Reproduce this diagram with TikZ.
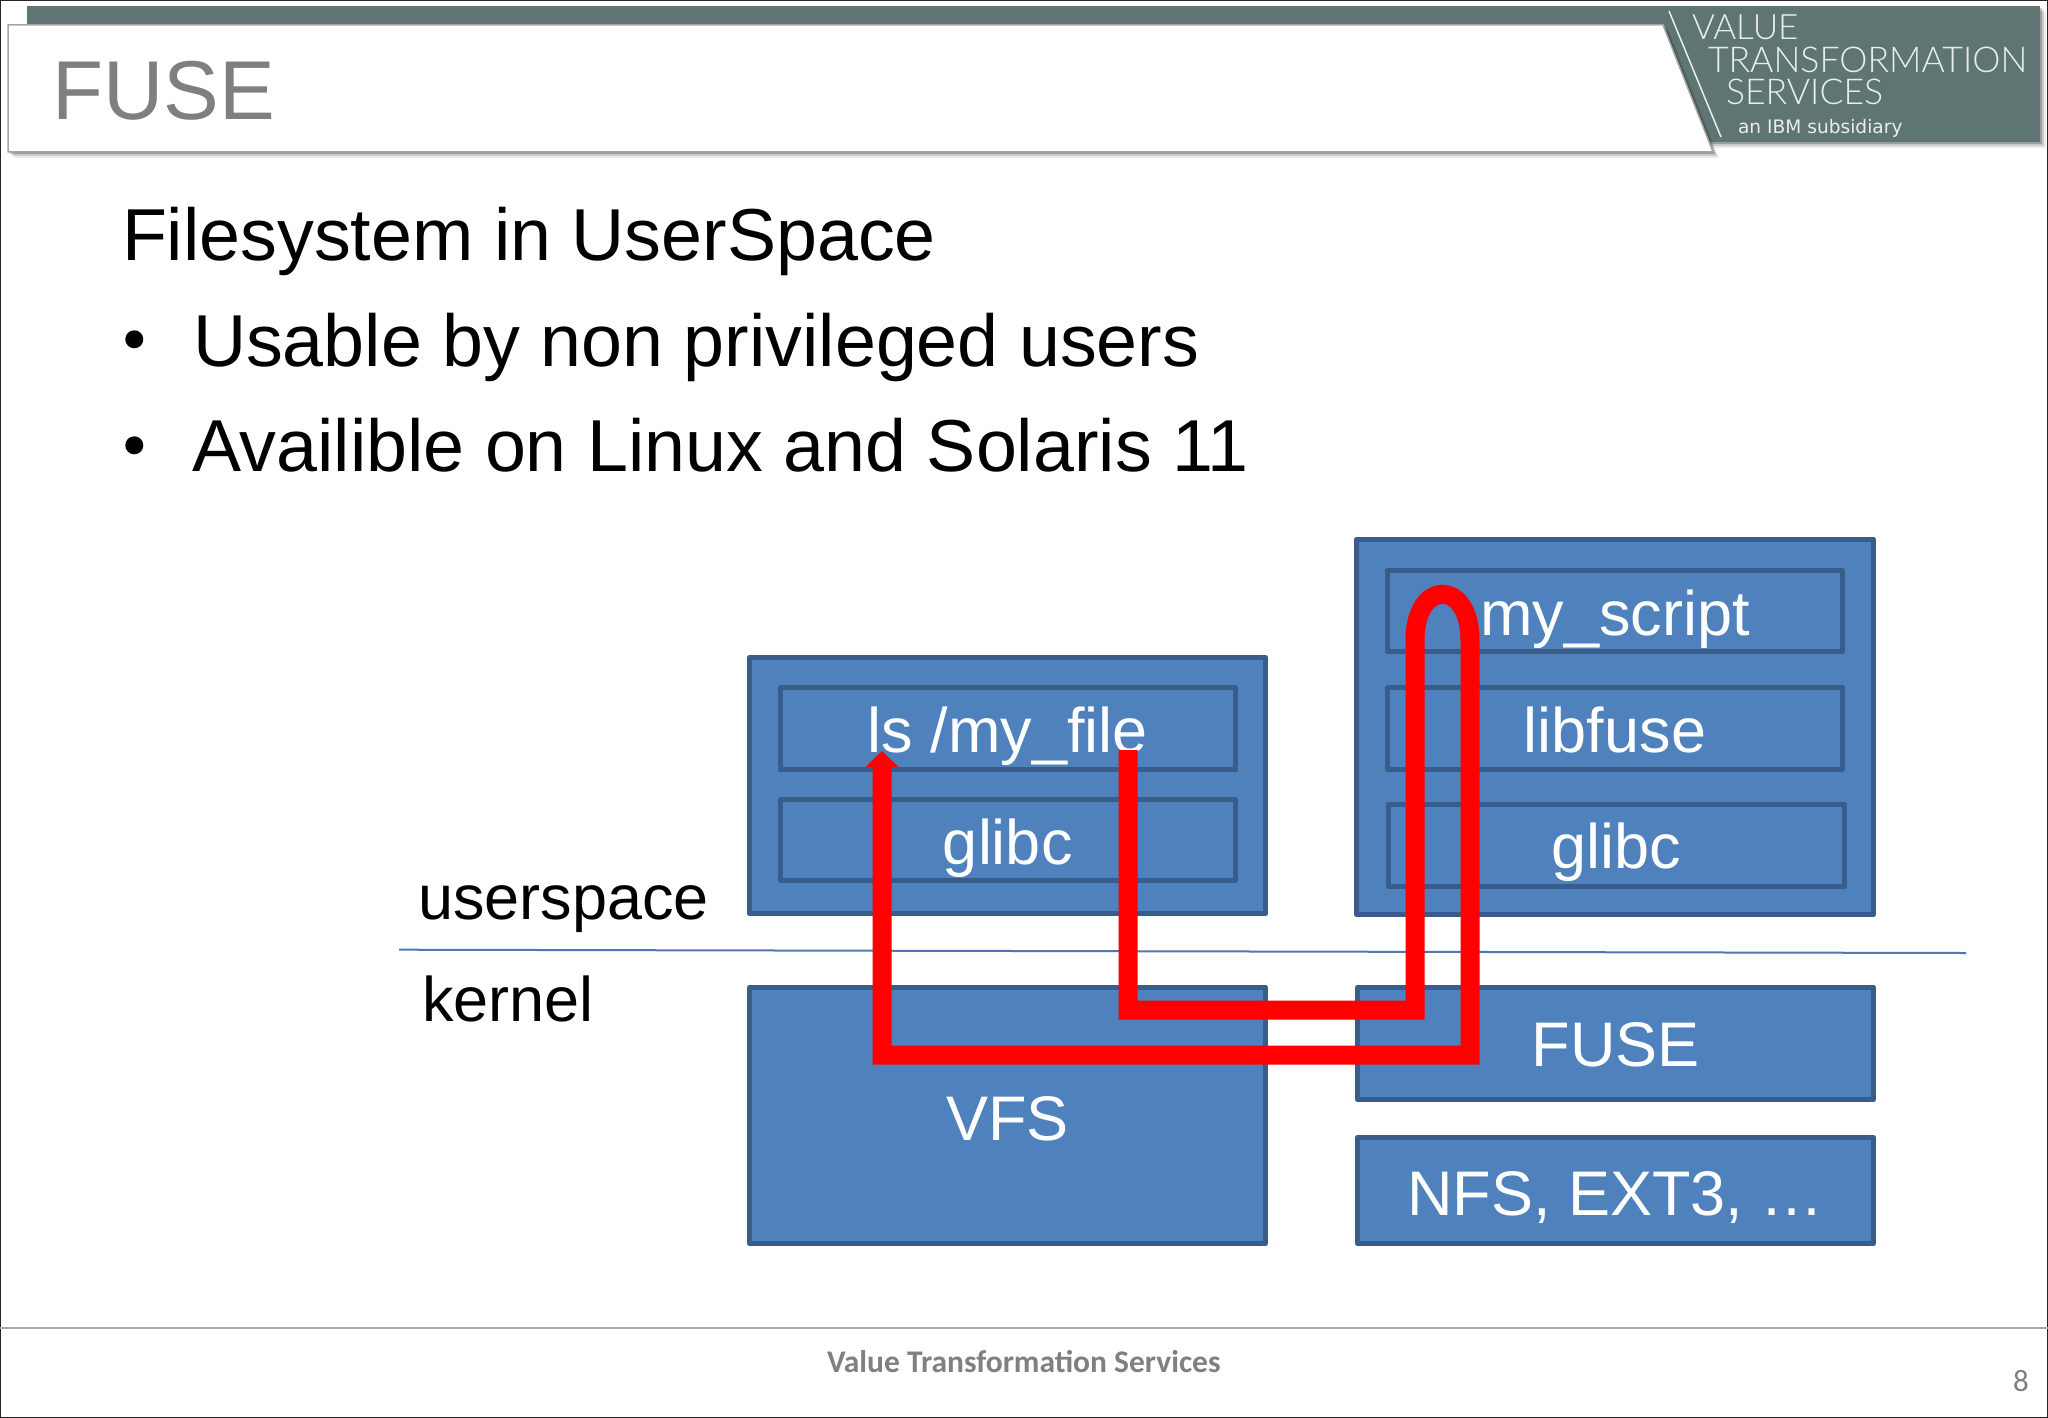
\documentclass[tikz,border=0pt]{standalone}
\usepackage{fontspec}
\usetikzlibrary{arrows.meta}
\setmainfont{Liberation Sans}
\newfontfamily\logofont[UprightFont=* Light]{Lato}
\newfontfamily\subfont{DejaVu Sans}
\newfontfamily\footfont{Carlito}
\newcommand{\fsz}[1]{\fontsize{#1}{#1}\selectfont}
\definecolor{band}{HTML}{5F7573}
\definecolor{logotext}{HTML}{E8EEEC}
\definecolor{boxfill}{HTML}{4F81BD}
\definecolor{boxline}{HTML}{385D8A}
\definecolor{divline}{HTML}{4F77B0}
\definecolor{titlegray}{HTML}{7F7F7F}
\definecolor{footgray}{HTML}{808080}
\definecolor{rule}{HTML}{A9A9AB}
\tikzset{
  txt/.style={anchor=base west,inner sep=0pt,outer sep=0pt},
  bodytxt/.style={txt,font=\fsz{73.6},text=black},
  sidetxt/.style={txt,font=\fsz{63},text=black},
  logotxt/.style={txt,text=logotext},
  bulletdot/.style={circle,fill=black,inner sep=0pt,minimum size=18pt},
  redpath/.style={draw=red,line width=19pt,line join=miter},
  bluebox/.style={draw=boxline,fill=boxfill,line width=5pt,line join=round,
    inner sep=0pt,outer sep=0pt,text=white,font=\fsz{63},anchor=center},
}
% name, outer x1, y1, x2, y2, baseline, text
\newcommand{\bluebox}[7]{%
  \pgfmathsetmacro{\bw}{#4-#2-5}%
  \pgfmathsetmacro{\bth}{#6-#3-2.5}%
  \pgfmathsetmacro{\btd}{#5-#6-2.5}%
  \node[bluebox,minimum width=\bw pt,text height=\bth pt,text depth=\btd pt]
    (#1) at ({(#2+#4)/2},{(#3+#5)/2}) {#7};%
}
\begin{document}
\begin{tikzpicture}[x=1pt,y=-1pt]
\useasboundingbox (0,0) rectangle (2048,1418);
\fill[white] (0,0) rectangle (2048,1418);
% slide border
\draw[black!85,line width=2pt] (0,0) rectangle (2048,1418);
% logo band with soft shadow
\foreach \o/\a in {6/0.08,4/0.14,2/0.22}
  \fill[black,opacity=\a] (27+\o,6+\o) rectangle (2040+\o,142+\o);
\fill[band] (27,6) rectangle (2040,142);
% title tab
\foreach \o/\a in {6/0.08,4/0.14,2/0.22}
  \fill[black,opacity=\a] (8+\o,25+\o) -- (1663+\o,25+\o) -- (1713+\o,152+\o) -- (8+\o,152+\o) -- cycle;
\draw[draw=black!35,line width=1.5pt,fill=white] (8,25) -- (1663,25) -- (1713,152) -- (8,152) -- cycle;
\coordinate (lineA) at (1669,11);
\coordinate (lineB) at (1721,137);
\draw[logotext,line width=1.5pt] (lineA) -- (lineB);
\node[txt,font=\fsz{83.5},text=titlegray] (title) at (52,120) {FUSE};
\node[logotxt,font=\logofont\fsz{35}] (logoA) at (1692,40) {VALUE};
\node[logotxt,font=\logofont\fsz{35.6}] (logoB) at (1708,73) {TRANSFORMATION};
\node[logotxt,font=\logofont\fsz{35.6}] (logoC) at (1726,105) {SERVICES};
\node[logotxt,font=\subfont\fsz{18.6}] (logoD) at (1738,134) {an IBM subsidiary};
% body text
\node[bodytxt] (head) at (122,260) {Filesystem in UserSpace};
\node[bulletdot] (bulA) at (134.3,339.3) {};
\node[bodytxt] (txtA) at (193,366) {Usable by non privileged users};
\node[bulletdot] (bulB) at (134.3,445.3) {};
\node[bodytxt] (txtB) at (192,471.5) {Availible on Linux and Solaris 11};
% boxes
\bluebox{uleft}{747}{655}{1268}{916}{800}{}
\bluebox{ls}{777.5}{685}{1238}{772}{752}{ls /my\_file}
\bluebox{gleft}{777.5}{797}{1238}{883}{864}{glibc}
\bluebox{uright}{1354}{537}{1876}{917}{800}{}
\bluebox{script}{1385}{568}{1845}{654}{635}{my\_script}
\bluebox{libfuse}{1385}{685}{1845}{772}{752}{libfuse}
\bluebox{gright}{1386}{802}{1847}{889}{868}{glibc}
\bluebox{vfs}{747}{985}{1268}{1246}{1140}{VFS}
\bluebox{fuse}{1355}{985}{1876}{1102}{1066}{FUSE}
\bluebox{nfs}{1355}{1135}{1876}{1246}{1215}{NFS, EXT3, …}
% divider
\coordinate (divA) at (399,949.7);
\coordinate (divB) at (1966,953);
\draw[divline,line width=2pt] (divA) -- (divB);
\node[sidetxt] (user) at (418,919) {userspace};
\node[sidetxt] (kernel) at (422,1021.5) {kernel};
% red call path
\coordinate (p0) at (1128,750);
\coordinate (p1) at (1128,1010);
\coordinate (p2) at (1415,1010);
\coordinate (p3) at (1415,640);
\coordinate (c1) at (1415,579);
\coordinate (c2) at (1470,579);
\coordinate (p4) at (1470,640);
\coordinate (p5) at (1470,1055);
\coordinate (p6) at (882,1055);
\coordinate (p7) at (882,751);
\draw[redpath,-{Triangle[length=16pt,width=32pt]}] (p0) -- (p1) -- (p2) -- (p3)
  .. controls (c1) and (c2) .. (p4) -- (p5) -- (p6) -- (p7);
% footer
\coordinate (ruleA) at (0,1328);
\coordinate (ruleB) at (2048,1328);
\draw[rule,line width=2pt] (ruleA) -- (ruleB);
\node[txt,font=\footfont\bfseries\fsz{31.5},text=footgray] (foot) at (827,1372) {Value Transformation Services};
\node[txt,font=\footfont\fsz{31},text=footgray] (page) at (2013,1391) {8};
\end{tikzpicture}
\end{document}
